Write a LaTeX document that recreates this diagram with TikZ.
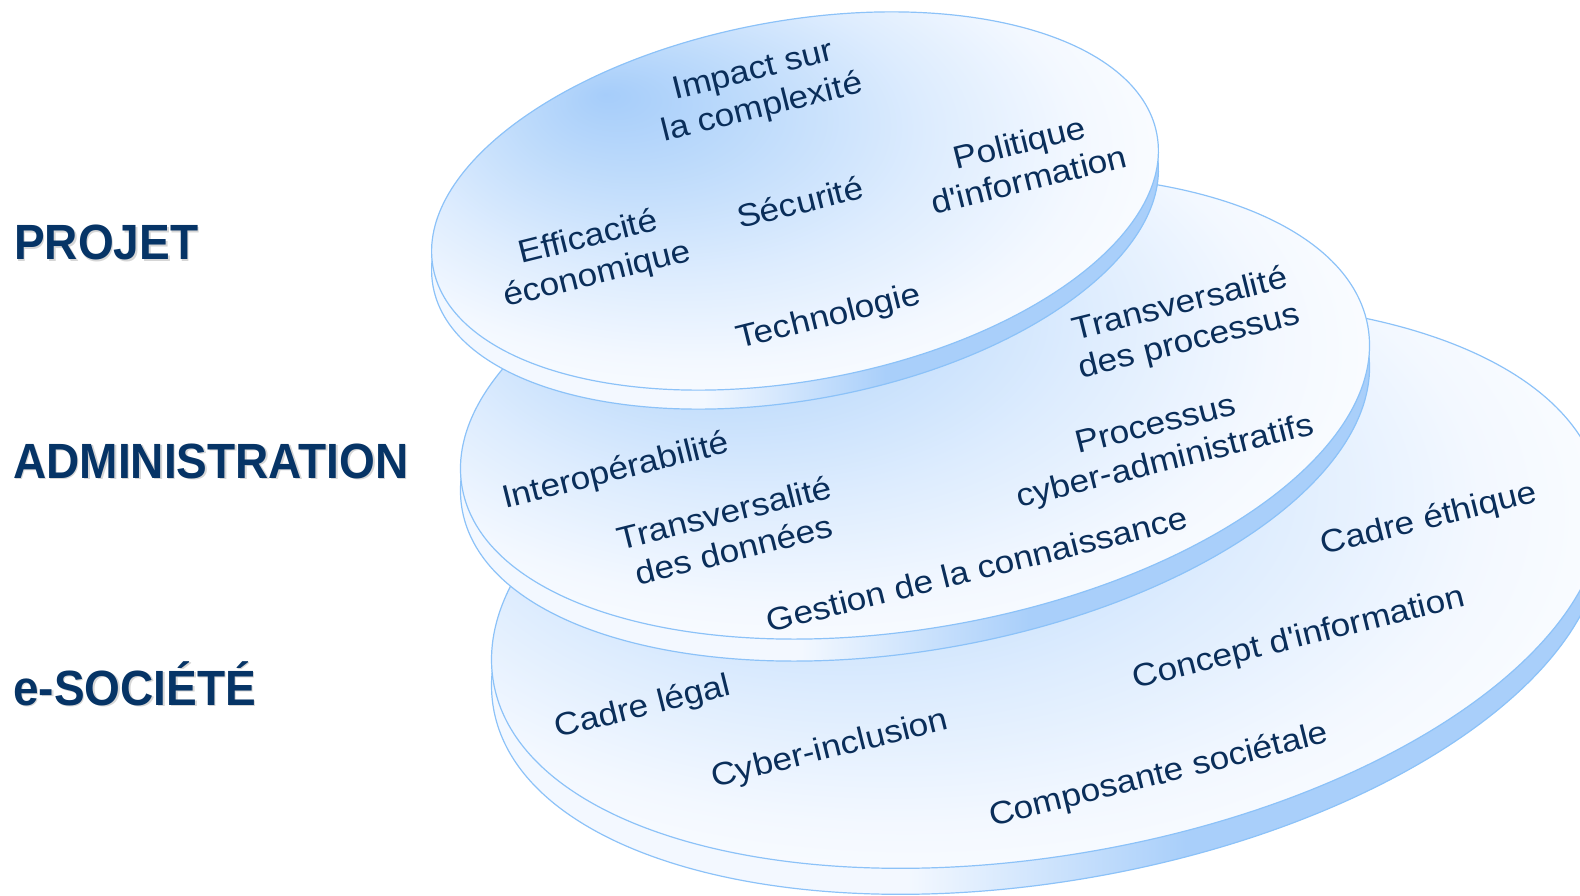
\documentclass[tikz,border=0pt]{standalone}
\usepackage{fontspec}
\setmainfont{Liberation Sans}[Ligatures=TeXOff]
\definecolor{txt}{HTML}{0A2E5A}
\definecolor{lbl}{HTML}{063466}
\definecolor{edge}{HTML}{8CC2F8}
\definecolor{rimA}{HTML}{F3F8FF}
\definecolor{rimB}{HTML}{A9CFFA}
\definecolor{sA}{HTML}{A6CDFA}
\definecolor{sB}{HTML}{BCDAFB}
\definecolor{sC}{HTML}{DDECFE}
\definecolor{sD}{HTML}{F3F8FF}
\pgfdeclareradialshading{diskshade}{\pgfpoint{-12.5bp}{12.5bp}}{color(0bp)=(sA); color(7bp)=(sB); color(17bp)=(sC); color(25bp)=(sD); color(33bp)=(white); color(50bp)=(white)}
\pgfdeclarehorizontalshading{rimshade}{100bp}{color(0bp)=(rimA); color(25bp)=(rimA); color(44bp)=(rimA); color(56bp)=(rimB); color(75bp)=(rimB); color(100bp)=(rimB)}
\tikzset{
  disktop/.style={draw=edge, line width=1.2pt, shading=diskshade},
  diskrim/.style={draw=edge, line width=1.2pt, shading=rimshade},
  dtext/.style={text=txt, font=\fontsize{32}{38}\selectfont, align=center, rotate=14, xscale=1.1, inner sep=0pt},
  lbl/.style={text=lbl, font=\fontsize{49.5}{50}\selectfont\bfseries, anchor=base west, inner sep=0pt, xscale=0.93},
  lblshadow/.style={lbl, text=black!16}
}
\begin{document}
\begin{tikzpicture}[x=1pt,y=1pt]
\useasboundingbox (0,0) rectangle (1580,-896);
\clip (0,0) rectangle (1580,-896);
% bottom disk
\shade[diskrim, rotate around={10:(1047,-611)}] (1047,-611) ellipse [x radius=562pt, y radius=270pt];
\shade[disktop, rotate around={10:(1047,-585)}] (1047,-585) ellipse [x radius=562pt, y radius=270pt];
% middle disk
\shade[diskrim, rotate around={10.1:(915,-429)}] (915,-429) ellipse [x radius=460pt, y radius=221pt];
\shade[disktop, rotate around={10.1:(915,-407)}] (915,-407) ellipse [x radius=460pt, y radius=221pt];
% top disk
\shade[diskrim, rotate around={10.4:(795,-220)}] (795,-220) ellipse [x radius=368pt, y radius=180pt];
\shade[disktop, rotate around={10.4:(795,-201)}] (795,-201) ellipse [x radius=368pt, y radius=180pt];
% left labels
\node[lblshadow] (ps) at (15.5,-261.5) {PROJET};
\node[lbl] (p) at (14,-260) {PROJET};
\node[lblshadow] (as) at (14.5,-479.5) {ADMINISTRATION};
\node[lbl] (a) at (13,-478) {ADMINISTRATION};
\node[lblshadow] (es) at (14.5,-706.5) {e-SOCIÉTÉ};
\node[lbl] (e) at (13,-705) {e-SOCIÉTÉ};
% top disk texts
\node[dtext] (t1) at (758,-91) {Impact sur\\la complexité};
\node[dtext] (t2) at (593,-257) {Efficacité\\économique};
\node[dtext] (t3) at (800,-202) {Sécurité};
\node[dtext] (t4) at (1024,-161) {Politique\\d'information};
\node[dtext] (t5) at (829,-318) {Technologie};
% middle disk texts
\node[dtext] (m1) at (1185,-324) {Transversalité\\des processus};
\node[dtext] (m2) at (616,-472) {Interopérabilité};
\node[dtext] (m3) at (729,-531) {Transversalité\\des données};
\node[dtext] (m4) at (1161,-445) {Processus\\cyber-administratifs};
\node[dtext] (m5) at (977,-569) {Gestion de la connaissance};
% bottom disk texts
\node[dtext] (b1) at (1429,-520) {Cadre éthique};
\node[dtext] (b2) at (1299,-639) {Concept d'information};
\node[dtext] (b3) at (643,-708) {Cadre légal};
\node[dtext] (b4) at (830,-750) {Cyber-inclusion};
\node[dtext] (b5) at (1159,-776) {Composante sociétale};
\end{tikzpicture}
\end{document}
